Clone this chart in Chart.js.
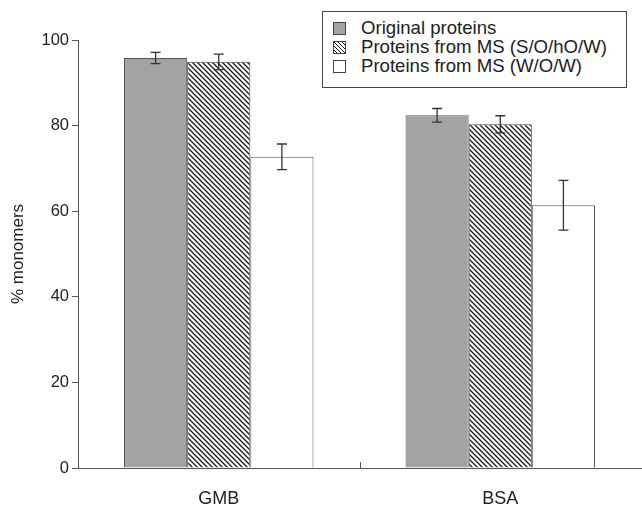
<!DOCTYPE html>
<html>
<head>
<meta charset="utf-8">
<script src="https://cdn.jsdelivr.net/npm/chart.js@4/dist/chart.umd.min.js"></script>
<style>
    html, body { margin: 0; padding: 0; background: #fff; }
    #wrap { position: relative; width: 642px; height: 508px; }
    #legendBox {
        position: absolute; left: 322px; top: 11px; width: 303px; height: 75px;
        border: 1px solid #444; background: #fff;
        font-family: 'Liberation Sans', Arial, sans-serif; font-size: 18.6px; color: #222;
    }
    .row { position: absolute; left: 10px; height: 19px; line-height: 19px; white-space: nowrap; }
    .sw { display: inline-block; width: 11px; height: 11px; border: 1px solid #444; vertical-align: -1px; margin-right: 15px; }
</style>
</head>
<body>
<div id="wrap">
    <canvas id="chart" width="642" height="508"></canvas>
    <div id="legendBox"></div>
</div>
<script>
const categories = ['GMB', 'BSA'];
const seriesNames = ['Original proteins', 'Proteins from MS (S/O/hO/W)', 'Proteins from MS (W/O/W)'];
const originalVals = [95.8, 82.4];
const soHoWVals = [94.9, 80.3];
const wowVals = [72.7, 61.4];
const originalErr = [1.3, 1.6];
const soHoWErr = [1.8, 2.0];
const wowErr = [3.0, 5.8];
const yTicks = [0, 20, 40, 60, 80, 100];

const FONT = "'Liberation Sans', Arial, sans-serif";
const AXIS = '#555';

function makeHatch() {
    const n = 5;
    const c = document.createElement('canvas');
    c.width = n; c.height = n;
    const g = c.getContext('2d');
    g.fillStyle = '#fff';
    g.fillRect(0, 0, n, n);
    g.strokeStyle = '#1a1a1a';
    g.lineWidth = 1.3;
    g.beginPath();
    g.moveTo(-1, -1); g.lineTo(n + 1, n + 1);
    g.moveTo(-1, n - 1); g.lineTo(1, n + 1);
    g.moveTo(n - 1, -1); g.lineTo(n + 1, 1);
    g.stroke();
    return g.createPattern(c, 'repeat');
}
const hatch = makeHatch();

const errors = [originalErr, soHoWErr, wowErr];

const errorBars = {
    id: 'errorBars',
    afterDatasetsDraw(chart) {
        const { ctx, scales: { y } } = chart;
        ctx.save();
        ctx.strokeStyle = '#333';
        ctx.lineWidth = 1.3;
        chart.data.datasets.forEach((ds, i) => {
            chart.getDatasetMeta(i).data.forEach((bar, j) => {
                const v = ds.data[j], e = errors[i][j];
                const top = y.getPixelForValue(v + e);
                const bot = y.getPixelForValue(v - e);
                ctx.beginPath();
                ctx.moveTo(bar.x, top); ctx.lineTo(bar.x, bot);
                ctx.moveTo(bar.x - 5, top); ctx.lineTo(bar.x + 5, top);
                ctx.moveTo(bar.x - 5, bot); ctx.lineTo(bar.x + 5, bot);
                ctx.stroke();
            });
        });
        // divider tick between the two groups
        const x = chart.scales.x;
        const mx = Math.round(x.getPixelForValue(0.5)) + 0.5;
        ctx.strokeStyle = AXIS;
        ctx.lineWidth = 1;
        ctx.beginPath();
        ctx.moveTo(mx, x.top); ctx.lineTo(mx, x.top - 6);
        ctx.stroke();
        ctx.restore();
    }
};

new Chart(document.getElementById('chart'), {
    type: 'bar',
    data: {
        labels: categories,
        datasets: [
            { label: seriesNames[0], data: originalVals, backgroundColor: '#a3a3a3', borderColor: AXIS, borderWidth: 1 },
            { label: seriesNames[1], data: soHoWVals, backgroundColor: hatch, borderColor: '#444', borderWidth: 1 },
            { label: seriesNames[2], data: wowVals, backgroundColor: '#fff', borderColor: AXIS, borderWidth: 1 }
        ]
    },
    options: {
        responsive: false,
        animation: false,
        layout: { padding: { top: 40, right: 1, left: 0, bottom: 0 } },
        datasets: { bar: { categoryPercentage: 0.673, barPercentage: 1 } },
        plugins: { legend: { display: false }, tooltip: { enabled: false } },
        scales: {
            x: {
                grid: { display: true, drawOnChartArea: false, drawTicks: false },
                border: { color: AXIS, width: 1 },
                ticks: { color: '#222', font: { family: FONT, size: 18 }, padding: 20 },
                afterFit(s) { s.height = 40; }
            },
            y: {
                min: 0, max: 100,
                afterBuildTicks(s) { s.ticks = yTicks.map(v => ({ value: v })); },
                grid: { drawOnChartArea: false, tickLength: 6, color: AXIS },
                border: { color: AXIS, width: 1 },
                ticks: { color: '#222', font: { family: FONT, size: 16.5 }, padding: 3 },
                title: { display: true, text: '% monomers', color: '#222', font: { family: FONT, size: 17 }, padding: { top: 8, bottom: 0 } },
                afterFit(s) { s.width = 78; }
            }
        }
    },
    plugins: [errorBars]
});

// legend
const swatchStyles = [
    'background:#a3a3a3;',
    'background:repeating-linear-gradient(45deg,#fff 0 1.6px,#1a1a1a 1.6px 2.8px);',
    'background:#fff;'
];
const box = document.getElementById('legendBox');
seriesNames.forEach((name, i) => {
    const row = document.createElement('div');
    row.className = 'row';
    row.style.top = (6 + i * 19) + 'px';
    row.innerHTML = `<span class="sw" style="${swatchStyles[i]}"></span>${name}`;
    box.appendChild(row);
});
</script>
</body>
</html>
